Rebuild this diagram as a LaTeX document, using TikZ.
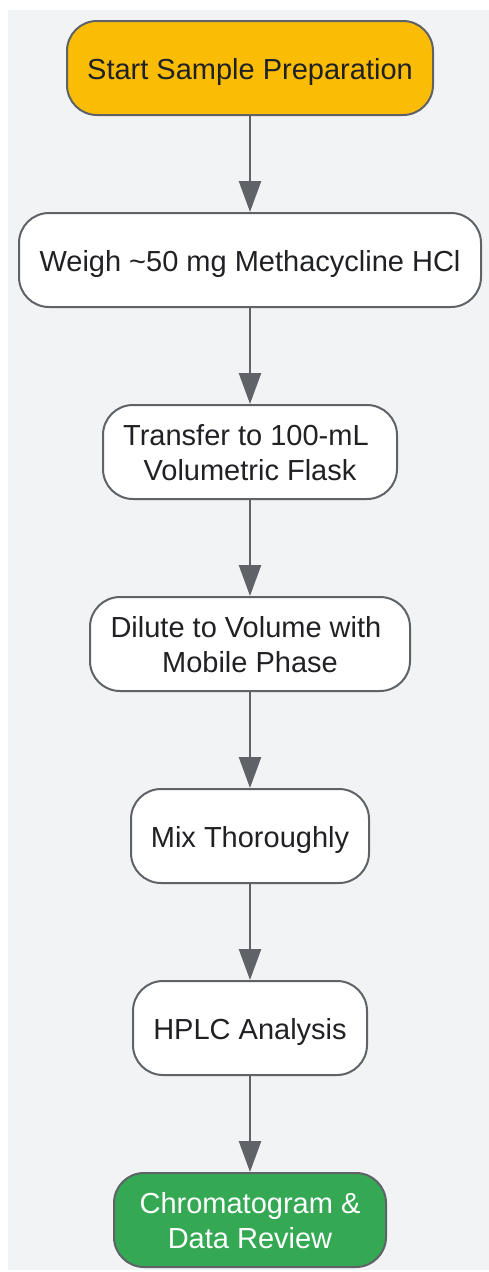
\documentclass[tikz,border=0pt]{standalone}
\usepackage{fontspec}
\setmainfont{Liberation Sans}
\usetikzlibrary{arrows.meta}
\definecolor{bgc}{HTML}{F1F3F4}
\definecolor{bordc}{HTML}{5F6368}
\definecolor{txtc}{HTML}{202124}
\definecolor{yel}{HTML}{FBBC05}
\definecolor{grn}{HTML}{34A853}
\tikzset{
  box/.style={draw=bordc, line width=2pt, rounded corners=30pt, fill=white,
    minimum height=94pt, inner sep=0pt, align=center, text=txtc,
    font=\fontsize{29}{35}\selectfont, text height=23.5pt, text depth=0pt},
  twoline/.style={text height=56pt, text depth=0pt},
  startbox/.style={box, fill=yel},
  endbox/.style={box, fill=grn, text=white},
  arr/.style={draw=bordc, line width=2.5pt, -{Triangle[length=31pt,width=22pt]}}
}
\begin{document}
\begin{tikzpicture}[x=1pt,y=-1pt]
\useasboundingbox (0,0) rectangle (489,1272);
\fill[bgc] (8,10) rectangle (489,1270);
\node[startbox, minimum width=366pt] (start) at (250,68) {Start Sample Preparation};
\node[box, minimum width=462pt] (weigh) at (250,260) {Weigh \textasciitilde 50 mg Methacycline HCl};
\node[box, twoline, minimum width=294pt] (transfer) at (250,452) {Transfer to 100-mL\kern0.28em\\Volumetric Flask};
\node[box, twoline, minimum width=320pt] (dilute) at (250,644) {Dilute to Volume with\kern0.28em\\Mobile Phase};
\node[box, minimum width=238pt] (mix) at (250,836) {Mix Thoroughly};
\node[box, minimum width=234pt] (hplc) at (250,1028) {HPLC Analysis};
\node[endbox, twoline, minimum width=272pt] (chrom) at (250,1220) {Chromatogram \&\\Data Review};
\draw[arr] (start) -- (weigh);
\draw[arr] (weigh) -- (transfer);
\draw[arr] (transfer) -- (dilute);
\draw[arr] (dilute) -- (mix);
\draw[arr] (mix) -- (hplc);
\draw[arr] (hplc) -- (chrom);
\end{tikzpicture}
\end{document}
